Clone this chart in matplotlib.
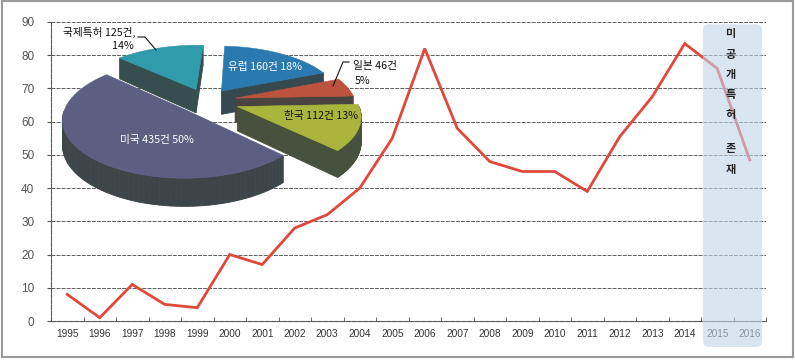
import matplotlib
matplotlib.use('Agg')
import matplotlib.pyplot as plt
import numpy as np
from matplotlib.patches import Polygon, FancyBboxPatch, Rectangle
from matplotlib.ticker import MultipleLocator

plt.rcParams['font.family'] = ['Noto Sans CJK KR', 'DejaVu Sans']

# line chart data
years = list(range(1995, 2017))
counts = [8, 1, 11, 5, 4, 20, 17, 28, 32, 40, 55, 82, 58, 48, 45, 45, 39, 55.5, 67.5, 83.5, 76, 48.5]

# pie data
pie_names = ['미국', '한국', '일본', '유럽', '국제특허']
pie_counts = [435, 112, 46, 160, 125]
pie_colors = ['#5b6082', '#a9b53b', '#bb533e', '#2a79b1', '#2f9bab']
pie_explode = [27, 33, 30, 27, 27]

W, H = 795, 360
fig = plt.figure(figsize=(W / 100, H / 100), dpi=100)

# main axes in pixel layout
left, right, top, bottom = 51, 766, 22, 321
ax = fig.add_axes([left / W, (H - bottom) / H, (right - left) / W, (bottom - top) / H])
ax.plot(years, counts, color='#e0483c', lw=2.0, solid_joinstyle='miter', zorder=3)
ax.set_xlim(1994.5, 2016.5)
ax.set_ylim(0, 90)
ax.yaxis.set_major_locator(MultipleLocator(10))
ax.set_xticks(years)
ax.set_xticks(np.arange(1994.5, 2017, 1), minor=True)
ax.grid(axis='y', color='#5e5e5e', lw=0.7, linestyle=(0, (4, 1.2)))
for s in ['top', 'right']:
    ax.spines[s].set_visible(False)
for s in ['left', 'bottom']:
    ax.spines[s].set_color('#555555')
    ax.spines[s].set_linestyle((0, (4, 1.2)))
    ax.spines[s].set_linewidth(0.8)
ax.tick_params(axis='x', which='major', length=0, pad=6, labelcolor='#333333')
ax.tick_params(axis='x', which='minor', length=3, direction='in', color='#555555')
ax.tick_params(axis='y', length=3, color='#555555', pad=9, labelcolor='#555555')
for lab in ax.get_xticklabels():
    lab.set_family(['Liberation Sans', 'DejaVu Sans'])
    lab.set_fontsize(7.3)
for lab in ax.get_yticklabels():
    lab.set_family(['Liberation Sans', 'DejaVu Sans'])
    lab.set_fontsize(8.5)

# overlay axes in pixel coordinates for pie and annotations
ov = fig.add_axes([0, 0, 1, 1], zorder=5)
ov.set_xlim(0, W)
ov.set_ylim(H, 0)
ov.axis('off')
ov.patch.set_alpha(0)

# shaded region for 2015-2016
fig.canvas.draw()
x0, yb = ax.transData.transform((2014.56, 0))
x1, yt = ax.transData.transform((2016.38, 89.3))
py_top = H - yt
py_bot = H - yb + 26
ov.add_patch(FancyBboxPatch((x0 + 6, py_top + 6), x1 - x0 - 12, py_bot - py_top - 12,
                            boxstyle='round,pad=6', fc='#c2d5ea', ec='none', alpha=0.6, zorder=1))
tx = (x0 + x1) / 2 - 2
ov.text(tx, py_top + 3, '미\n공\n개\n특\n허', ha='center', va='top', fontweight='bold',
        fontsize=8, linespacing=1.72, color='#222222', zorder=2)
ov.text(tx, py_top + 118, '존\n재', ha='center', va='top', fontweight='bold',
        fontsize=8, linespacing=1.72, color='#222222', zorder=2)

# 3D exploded pie
cx, cy, R, sq, k, depth = 206, 101, 120, 0.47, 0.15, 24
start = 138


def proj(X, Y, Z):
    sc = 1 - k * Y / R
    return cx + X * sc, cy - Y * sq * sc - Z * sc


def side_color(c):
    rgb = np.array(matplotlib.colors.to_rgb(c))
    base = np.array(matplotlib.colors.to_rgb('#37413f'))
    return tuple(0.86 * base + 0.14 * rgb)


total = sum(pie_counts)
slices = []
a = start
for name, val, col, ex in zip(pie_names, pie_counts, pie_colors, pie_explode):
    span = 360 * val / total
    slices.append((name, a, a + span, col, ex))
    a += span

order = sorted(slices, key=lambda t: -np.sin(np.radians((t[1] + t[2]) / 2)))
for name, a0, a1, col, ex in order:
    m = np.radians((a0 + a1) / 2)
    ox, oy = ex * np.cos(m), ex * np.sin(m)
    t = np.radians(np.linspace(a0, a1, 80))
    pts = [(ox, oy)] + [(ox + R * np.cos(v), oy + R * np.sin(v)) for v in t]
    n = len(pts)
    sc = side_color(col)
    for i in range(n):
        p, q = pts[i], pts[(i + 1) % n]
        if q[0] - p[0] > 1e-6:
            quad = [proj(p[0], p[1], 0), proj(q[0], q[1], 0),
                    proj(q[0], q[1], -depth), proj(p[0], p[1], -depth)]
            ov.add_patch(Polygon(quad, closed=True, fc=sc, ec=sc, lw=0.6, zorder=3))
    topf = [proj(x, y, 0) for x, y in pts]
    ov.add_patch(Polygon(topf, closed=True, fc=col, ec=col, lw=0.4, zorder=3))

# pie labels
lab_kw = dict(fontsize=7.7, zorder=6, va='center')
ov.text(63, 32, f'국제특허 {pie_counts[4]}건,', ha='left', color='#111111', **lab_kw)
ov.text(134, 46, f'{round(100 * pie_counts[4] / total)}%', ha='right', color='#111111', **lab_kw)
ov.plot([138, 145, 156], [37, 37, 50], color='#111111', lw=0.8, zorder=6)
ov.text(228, 67, f'유럽 {pie_counts[3]}건 {round(100 * pie_counts[3] / total)}%', ha='left',
        color='white', **lab_kw)
ov.text(353, 66, f'일본 {pie_counts[2]}건', ha='left', color='#111111', **lab_kw)
ov.text(355, 81, f'{round(100 * pie_counts[2] / total)}%', ha='left', color='#111111', **lab_kw)
ov.plot([349, 343, 333], [62, 62, 86], color='#111111', lw=0.8, zorder=6)
ov.text(284, 116, f'한국 {pie_counts[1]}건 {round(100 * pie_counts[1] / total)}%', ha='left',
        color='#111111', **lab_kw)
ov.text(120, 140, f'미국 {pie_counts[0]}건 {round(100 * pie_counts[0] / total)}%', ha='left',
        color='white', **lab_kw)

# outer frame
ov.add_patch(Rectangle((2, 1), 791, 356, fill=False, ec='#9a9a9a', lw=1.5, zorder=7))

fig.savefig('out.png', dpi=100)
